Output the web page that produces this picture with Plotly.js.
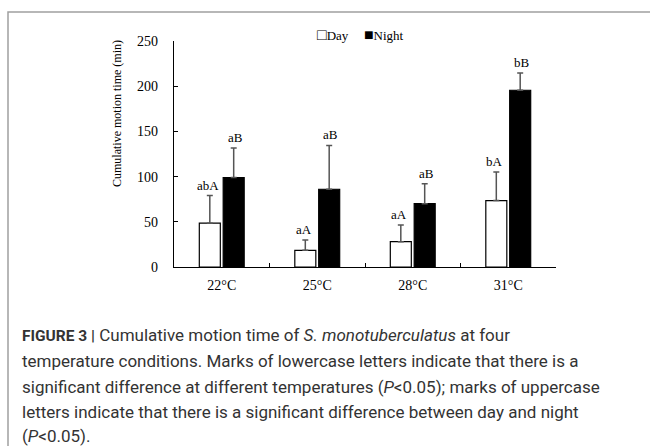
<!DOCTYPE html>
<html>
<head>
<meta charset="utf-8">
<script src="https://cdn.plot.ly/plotly-3.0.1.min.js"></script>
<style>html,body{margin:0;padding:0;background:#fff;}#chart{width:650px;height:446px;}</style>
</head>
<body>
<div id="chart"></div>
<script>
// ---- data ----
const categories = ["22\u00b0C", "25\u00b0C", "28\u00b0C", "31\u00b0C"];
const seriesNames = ["Day", "Night"];
const dayValues = [48.5, 18.5, 28, 73.5];
const dayErrors = [30.5, 11.5, 18.5, 31.5];
const nightValues = [99, 86, 70, 195.5];
const nightErrors = [32.5, 48.5, 22, 19];
const dayLabels = ["abA", "aA", "aA", "bA"];
const nightLabels = ["aB", "aB", "aB", "bB"];
const yTicks = [0, 50, 100, 150, 200, 250];

// ---- geometry helpers (pixel -> paper) ----
const W = 650, H = 446, L = 174, R = 94, T = 41, B = 179;
const pw = W - L - R, ph = H - T - B;
const px = x => (x - L) / pw;
const py = y => (H - B - y) / ph;

const serif = "Liberation Serif, Times New Roman, serif";
const sans = "Roboto, Liberation Sans, sans-serif";

const traces = [
  {
    type: "bar", name: seriesNames[0], x: categories, y: dayValues,
    marker: {color: "#ffffff", line: {color: "#000000", width: 1.2}},
    error_y: {type: "data", array: dayErrors, arrayminus: dayErrors.map(() => 0), symmetric: false,
              color: "#555555", thickness: 1.5, width: 3}
  },
  {
    type: "bar", name: seriesNames[1], x: categories, y: nightValues,
    marker: {color: "#000000", line: {color: "#000000", width: 1.2}},
    error_y: {type: "data", array: nightErrors, arrayminus: nightErrors.map(() => 0), symmetric: false,
              color: "#555555", thickness: 1.5, width: 3}
  }
];

const annotations = [];
categories.forEach((c, i) => {
  annotations.push({x: c, y: dayValues[i] + dayErrors[i], xref: "x", yref: "y", text: dayLabels[i],
    showarrow: false, xshift: -13.7, yanchor: "bottom", yshift: 1, font: {family: serif, size: 13, color: "#000"}});
  annotations.push({x: c, y: nightValues[i] + nightErrors[i], xref: "x", yref: "y", text: nightLabels[i],
    showarrow: false, xshift: 13.7, yanchor: "bottom", yshift: 1, font: {family: serif, size: 13, color: "#000"}});
});

// legend (Excel style: small squares next to names)
annotations.push({x: px(360), y: py(34), xref: "paper", yref: "paper", showarrow: false,
  xanchor: "center", yanchor: "middle",
  text: "<span style='font-size:16px'>\u25a1</span>" + seriesNames[0] +
        "\u2003\u2009<span style='font-size:16px'>\u25a0</span>" + seriesNames[1],
  font: {family: serif, size: 13, color: "#000"}});

// y-axis title (placed like the original, above the axis centre)
annotations.push({x: px(117), y: py(114), xref: "paper", yref: "paper", showarrow: false,
  xanchor: "center", yanchor: "middle", textangle: -90,
  text: "Cumulative motion time (min)", font: {family: serif, size: 12, color: "#000"}});

const captionLines = [
  "<b><span style='font-size:15.5px'>FIGURE 3 |</span></b> Cumulative motion time of <i>S. monotuberculatus</i> at four",
  "temperature conditions. Marks of lowercase letters indicate that there is a",
  "significant difference at different temperatures (<i>P</i>&lt;0.05); marks of uppercase",
  "letters indicate that there is a significant difference between day and night",
  "(<i>P</i>&lt;0.05)."
];
const captionY = [335, 361, 387, 412, 436];
captionLines.forEach((t, i) => {
  annotations.push({x: px(20), y: py(captionY[i]), xref: "paper", yref: "paper", text: t,
    showarrow: false, xanchor: "left", yanchor: "middle", align: "left",
    font: {family: sans, size: 17, color: "#333333"}});
});

const layout = {
  width: W, height: H,
  margin: {l: L, r: R, t: T, b: B, pad: 0},
  paper_bgcolor: "#ffffff", plot_bgcolor: "#ffffff",
  barmode: "group", bargap: 0.5, bargroupgap: 0.12,
  showlegend: false,
  xaxis: {
    type: "category", showline: true, linecolor: "#000", linewidth: 1.3,
    ticks: "inside", tickson: "boundaries", ticklen: 4, tickcolor: "#000", tickwidth: 1,
    showgrid: false, zeroline: false, ticklabelstandoff: 5,
    tickfont: {family: serif, size: 14, color: "#000"}, fixedrange: true
  },
  yaxis: {
    range: [0, 250], tickvals: yTicks, showline: true, linecolor: "#000", linewidth: 1.3,
    ticks: "inside", ticklen: 4, tickcolor: "#000", tickwidth: 1,
    showgrid: false, zeroline: false, ticklabelstandoff: 12,
    tickfont: {family: serif, size: 14, color: "#000"},
    fixedrange: true
  },
  shapes: [{type: "rect", xref: "paper", yref: "paper", x0: px(8), x1: px(680), y0: py(12), y1: py(480),
            line: {color: "#a0a0a0", width: 1.5}, fillcolor: "rgba(0,0,0,0)", layer: "below"}],
  annotations: annotations
};

Plotly.newPlot("chart", traces, layout, {displayModeBar: false, staticPlot: true});
</script>
</body>
</html>
